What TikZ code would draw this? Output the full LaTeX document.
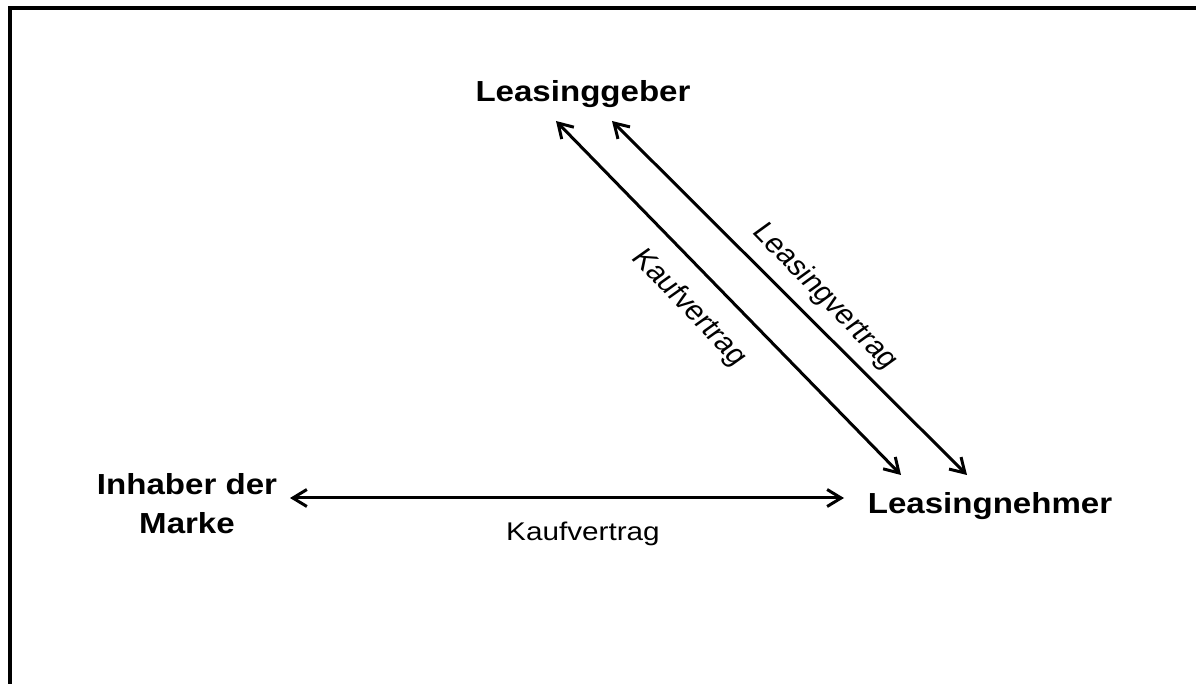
\documentclass[tikz,border=0pt]{standalone}
\usepackage{fontspec}
\setmainfont{Liberation Sans}
\usetikzlibrary{arrows.meta}
\tikzset{
  party/.style={font=\fontsize{14.5}{19.5}\selectfont\bfseries, inner sep=0pt, align=center, xscale=1.14},
  lbl/.style={font=\fontsize{12.8}{15}\selectfont, inner sep=0pt},
  dlbl/.style={font=\fontsize{13.6}{16}\selectfont, inner sep=0pt},
  contract/.style={line width=1.5pt, line cap=round,
    {Straight Barb[length=7pt,width=8.5pt]}-{Straight Barb[length=7pt,width=8.5pt]}},
  frame/.style={line width=2pt, black},
}
\begin{document}
\begin{tikzpicture}[x=0.5pt,y=-0.5pt]
\useasboundingbox (0,0) rectangle (1196,684);
% frame (continues beyond right and bottom edge)
\draw[frame] (1220,8) -- (10,8) -- (10,710);

% parties
\node[party, anchor=base] (lg) at (583,102) {Leasinggeber};
\node[party, anchor=center] (im) at (187,504) {Inhaber der\\Marke};
\node[party, anchor=base] (ln) at (990,514) {Leasingnehmer};

% connector end points
\coordinate (kg) at (556,121);
\coordinate (kn) at (901,475);
\coordinate (vg) at (612,121);
\coordinate (vn) at (967,475);
\coordinate (mi) at (290,498);
\coordinate (mn) at (844,498);

% contracts
\draw[contract] (kg) -- (kn);
\draw[contract] (vg) -- (vn);
\draw[contract] (mi) -- (mn);

% labels
\node[dlbl, xscale=1.16, rotate=-50.5] (kl) at (689,308) {Kaufvertrag};
\node[dlbl, xscale=1.16, rotate=-50] (vl) at (825,297) {Leasingvertrag};
\node[lbl, xscale=1.16, anchor=base] (hl) at (583,541) {Kaufvertrag};
\end{tikzpicture}
\end{document}
